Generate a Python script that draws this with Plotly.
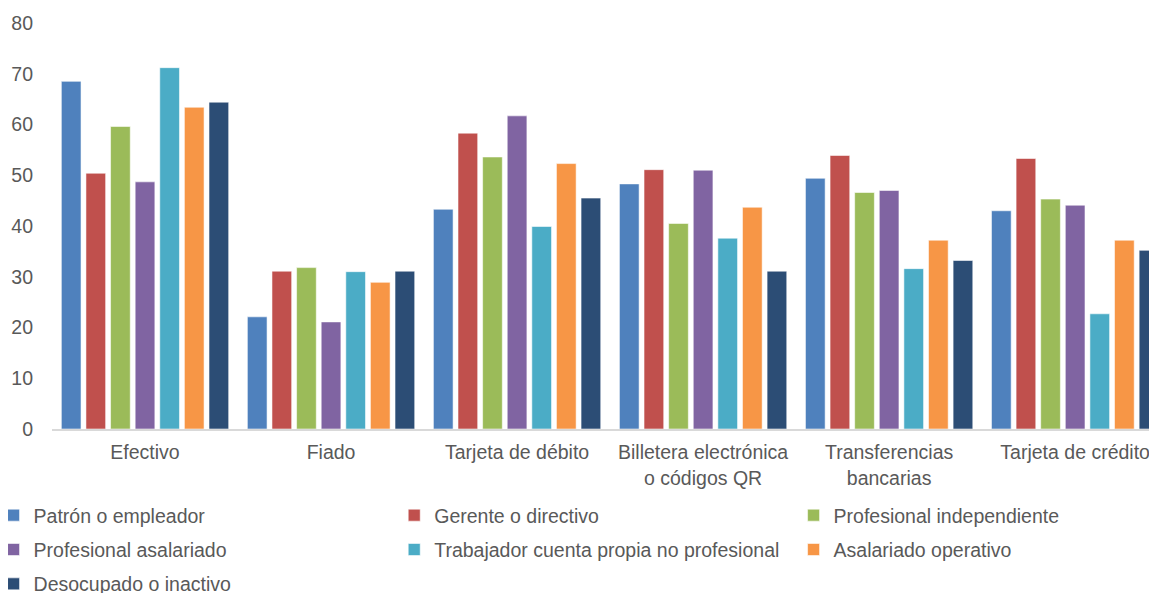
import plotly.graph_objects as go

categories = [
    "Efectivo",
    "Fiado",
    "Tarjeta de débito",
    "Billetera electrónica<br>o códigos QR",
    "Transferencias<br>bancarias",
    "Tarjeta de crédito",
]

patron = [68.5, 22.1, 43.3, 48.3, 49.4, 43.0]
gerente = [50.4, 31.1, 58.3, 51.1, 53.9, 53.3]
prof_independiente = [59.6, 31.8, 53.6, 40.5, 46.6, 45.3]
prof_asalariado = [48.7, 21.1, 61.7, 51.0, 47.0, 44.1]
cuenta_propia = [71.2, 31.0, 39.9, 37.6, 31.6, 22.7]
asalariado_operativo = [63.4, 28.9, 52.3, 43.7, 37.2, 37.2]
desocupado = [64.4, 31.1, 45.5, 31.1, 33.2, 35.2]

series = [
    ("Patrón o empleador", patron, "#4F81BD", "legend"),
    ("Gerente o directivo", gerente, "#C0504D", "legend2"),
    ("Profesional independiente", prof_independiente, "#9BBB59", "legend3"),
    ("Profesional asalariado", prof_asalariado, "#8064A2", "legend"),
    ("Trabajador cuenta propia no profesional", cuenta_propia, "#4BACC6", "legend2"),
    ("Asalariado operativo", asalariado_operativo, "#F79646", "legend3"),
    ("Desocupado o inactivo", desocupado, "#2C4D75", "legend"),
]

FONT = "Liberation Sans, Arial, sans-serif"
TEXT = "#595959"

fig = go.Figure()
for name, values, color, legend in series:
    fig.add_trace(
        go.Bar(
            x=categories,
            y=values,
            name=name,
            legend=legend,
            legendgroup=name,
            marker=dict(color=color, line=dict(color="rgba(255,255,255,0.55)", width=1)),
        )
    )

# the page body keeps an 8px margin, so the figure is laid out 8px up/left
legend_style = dict(
    orientation="v",
    xanchor="left",
    yanchor="top",
    y=-0.165,
    font=dict(family=FONT, size=19.5, color=TEXT),
    bgcolor="rgba(0,0,0,0)",
    itemwidth=30,
    tracegroupgap=6,
)

fig.update_layout(
    width=1157,
    height=593,
    margin=dict(l=44, r=8, t=15, b=172, autoexpand=False),
    paper_bgcolor="white",
    plot_bgcolor="white",
    barmode="group",
    bargap=0.074,
    bargroupgap=0.2,
    font=dict(family=FONT, size=19.5, color=TEXT),
    legend=dict(legend_style, x=-0.0529),
    legend2=dict(legend_style, x=0.3097),
    legend3=dict(legend_style, x=0.6711),
)
fig.update_xaxes(
    type="category",
    range=[-0.5, 5.44],
    showgrid=False,
    showline=True,
    linecolor="#D9D9D9",
    linewidth=2,
    ticks="",
    ticklabelstandoff=5,
    tickfont=dict(family=FONT, size=19.5, color=TEXT),
)
fig.update_yaxes(
    range=[0, 80],
    dtick=10,
    showgrid=False,
    zeroline=False,
    showline=False,
    ticks="",
    ticklabelstandoff=18,
    tickfont=dict(family=FONT, size=19.5, color=TEXT),
)

fig.write_html("out.html")
